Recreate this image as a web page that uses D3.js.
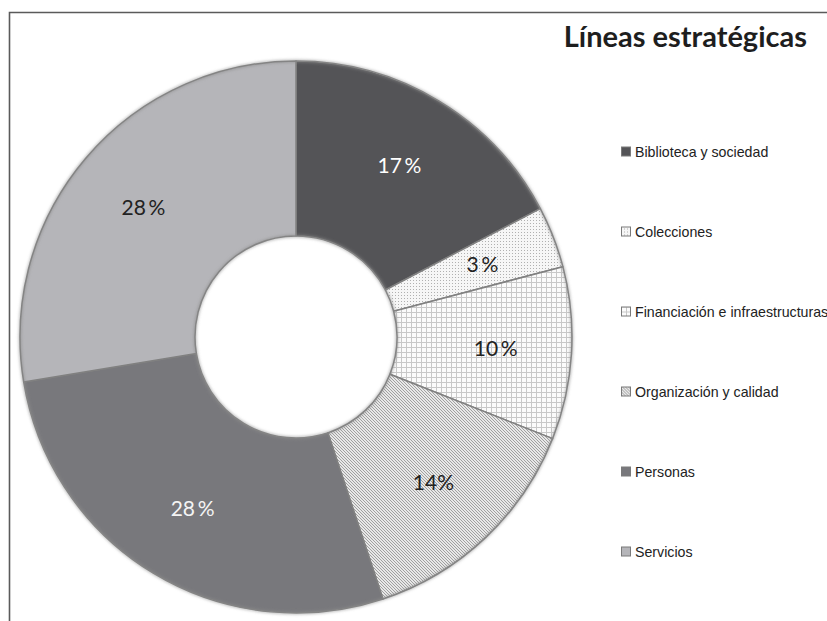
<!DOCTYPE html>
<html>
<head>
<meta charset="utf-8">
<script src="https://cdn.jsdelivr.net/npm/d3@7/dist/d3.min.js"></script>
<style>
  body { margin: 0; background: #fff; }
  svg { display: block; }
</style>
</head>
<body>
<div id="main"></div>
<script>
const ctx = {
    width: 827,
    height: 621,
    cx: 296,
    cy: 337,
    rOuter: 276,
    rInner: 101,
    rLabel: 200
};

// datos
const categorias = ["Biblioteca y sociedad", "Colecciones", "Financiación e infraestructuras",
                    "Organización y calidad", "Personas", "Servicios"];
const valores = [17.3, 3.6, 10.1, 13.9, 27.5, 27.6];
const etiquetas = ["17\u2009%", "3\u2009%", "10\u2009%", "14%", "28\u2009%", "28\u2009%"];
const titulo = "Líneas estratégicas";

// relleno de cada sector (color o trama)
const rellenos = ["#545457", "url(#puntos)", "url(#rejilla)", "url(#rayas)", "#78787c", "#b5b5b9"];
const colorTexto = ["#ffffff", "#222", "#222", "#222", "#f4f4f4", "#222"];

function createViz() {
    let svg = d3.select("#main").append("svg")
        .attr("width", ctx.width)
        .attr("height", ctx.height);

    CreatePatterns(svg);

    // marco
    svg.append("path")
        .attr("d", "M9.5," + ctx.height + " L9.5,12.5 L" + ctx.width + ",12.5")
        .attr("fill", "none")
        .attr("stroke", "#5a5a5a")
        .attr("stroke-width", 1.6);

    CreateDonut(svg);
    CreateLegend(svg);

    // titulo
    svg.append("text")
        .attr("x", 807)
        .attr("y", 47)
        .attr("text-anchor", "end")
        .style("font-family", "Lato, 'Open Sans', sans-serif")
        .style("font-weight", "bold")
        .style("font-size", "29px")
        .style("fill", "#1e1e1e")
        .text(titulo);
}

function CreatePatterns(svg) {
    let defs = svg.append("defs");

    let p1 = defs.append("pattern").attr("id", "puntos")
        .attr("patternUnits", "userSpaceOnUse").attr("width", 3).attr("height", 3);
    p1.append("rect").attr("width", 3).attr("height", 3).attr("fill", "#f6f6f6");
    p1.append("rect").attr("width", 1).attr("height", 1).attr("fill", "#b0b0b0");

    let p2 = defs.append("pattern").attr("id", "rejilla")
        .attr("patternUnits", "userSpaceOnUse").attr("width", 5).attr("height", 5);
    p2.append("rect").attr("width", 5).attr("height", 5).attr("fill", "#fbfbfb");
    p2.append("path").attr("d", "M0,0.5 H5 M0.5,0 V5")
        .attr("stroke", "#c8c8c8").attr("stroke-width", 1);

    let p3 = defs.append("pattern").attr("id", "rayas")
        .attr("patternUnits", "userSpaceOnUse").attr("width", 3).attr("height", 3);
    p3.append("rect").attr("width", 3).attr("height", 3).attr("fill", "#e8e8e8");
    p3.append("path").attr("d", "M-1,-1 L4,4 M-1,2 L1,4 M2,-1 L4,1")
        .attr("stroke", "#a0a0a0").attr("stroke-width", 1);

    // borde suave
    defs.append("filter").attr("id", "suave")
        .attr("x", "-10%").attr("y", "-10%").attr("width", "120%").attr("height", "120%")
        .append("feGaussianBlur").attr("stdDeviation", 1.6);
}

function CreateDonut(svg) {
    let pie = d3.pie().sort(null).value(d => d.valor);
    let arc = d3.arc().innerRadius(ctx.rInner).outerRadius(ctx.rOuter);
    let arcLabel = d3.arc().innerRadius(ctx.rLabel).outerRadius(ctx.rLabel);

    let datos = categorias.map((c, i) => ({ cat: c, valor: valores[i], i: i }));

    let g = svg.append("g")
        .attr("transform", "translate(" + ctx.cx + "," + ctx.cy + ")");

    g.selectAll("path.sector")
        .data(pie(datos))
        .enter().append("path")
        .attr("class", "sector")
        .attr("d", arc)
        .attr("fill", d => rellenos[d.data.i])
        .attr("stroke", "#808080")
        .attr("stroke-width", 1.5)
        .attr("stroke-linejoin", "round");

    // sombra difusa de los bordes
    g.selectAll("circle.borde")
        .data([ctx.rOuter, ctx.rInner])
        .enter().append("circle")
        .attr("class", "borde")
        .attr("r", d => d)
        .attr("fill", "none")
        .attr("stroke", "#8a8a8a")
        .attr("stroke-width", 2.5)
        .attr("stroke-opacity", 0.7)
        .attr("filter", "url(#suave)");

    g.selectAll("text")
        .data(pie(datos))
        .enter().append("text")
        .attr("transform", d => "translate(" + arcLabel.centroid(d) + ")")
        .attr("text-anchor", "middle")
        .attr("dy", "0.36em")
        .style("font-family", "Lato, 'Open Sans', sans-serif")
        .style("font-size", "21px")
        .style("fill", d => colorTexto[d.data.i])
        .text(d => etiquetas[d.data.i]);
}

function CreateLegend(svg) {
    let y = d3.scalePoint()
        .domain(categorias)
        .range([151.5, 551.5]);

    let items = svg.append("g").selectAll("g")
        .data(categorias)
        .enter().append("g")
        .attr("transform", d => "translate(621," + y(d) + ")");

    items.append("rect")
        .attr("x", 0.5)
        .attr("y", -4.5)
        .attr("width", 9)
        .attr("height", 9)
        .attr("fill", (d, i) => rellenos[i])
        .attr("stroke", "#7a7a7a")
        .attr("stroke-width", 1);

    items.append("text")
        .attr("x", 14)
        .attr("dy", "0.36em")
        .style("font-family", "'Liberation Sans', Arial, sans-serif")
        .style("font-size", "14.2px")
        .style("fill", "#222")
        .text(d => d);
}

createViz();
</script>
</body>
</html>
